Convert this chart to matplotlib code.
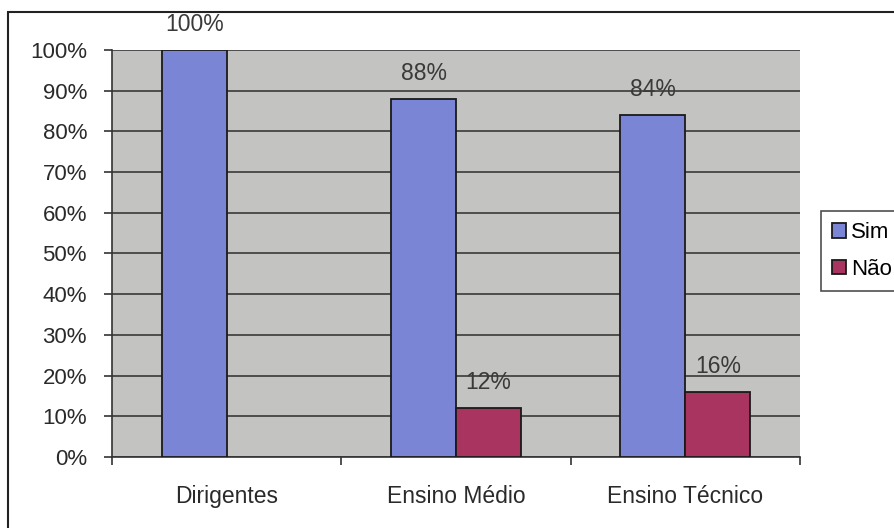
import matplotlib.pyplot as plt
import numpy as np
from matplotlib.patches import Rectangle, Patch

categories = ['Dirigentes', 'Ensino Médio', 'Ensino Técnico']
sim = [100, 88, 84]
nao = [0, 12, 16]
series_names = ['Sim', 'Não']
y_ticks = [0, 10, 20, 30, 40, 50, 60, 70, 80, 90, 100]

plt.rcParams['font.family'] = ['Liberation Sans', 'DejaVu Sans']

fig = plt.figure(figsize=(8.94, 5.28), dpi=100)
ax = fig.add_axes([0.1253, 0.1345, 0.7696, 0.7708])

# outer chart frame
fig.patches.append(Rectangle((0.009, -0.05), 1.1, 1.027, transform=fig.transFigure,
                             fill=False, edgecolor='#222222', linewidth=1.5))

x = np.arange(len(categories))
w = 0.283
colors = ['#7a85d6', '#a8345f']
ax.set_facecolor('#c3c3c1')
b1 = ax.bar(x - w / 2, sim, w, color=colors[0], edgecolor='#1a1a1a', linewidth=1.3,
            zorder=3)
b2 = ax.bar(x + w / 2, nao, w, color=colors[1], edgecolor='#1a1a1a', linewidth=1.3,
            zorder=3)

for bars, vals in ((b1, sim), (b2, nao)):
    for rect, v in zip(bars, vals):
        if v == 0:
            rect.set_edgecolor('none')
            continue
        ax.annotate(f'{v}%', (rect.get_x() + rect.get_width() / 2, v),
                    xytext=(0, 10), textcoords='offset points', ha='center',
                    va='bottom', fontsize=16.5, color='#3a3a3a', zorder=4)

ax.set_xlim(-0.5, len(categories) - 0.5)
ax.set_ylim(0, 100)
ax.set_yticks(y_ticks)
ax.set_yticklabels([f'{t}%' for t in y_ticks], fontsize=16, color='#2a2a2a')
ax.yaxis.grid(True, color='#3a3a3a', linewidth=1.2, zorder=1)
ax.set_axisbelow(True)

# category ticks sit on the boundaries, labels in the middle
ax.set_xticks(np.arange(len(categories) + 1) - 0.5)
ax.set_xticklabels([])
ax.set_xticks(x, minor=True)
ax.set_xticklabels(categories, minor=True, fontsize=16.5, color='#2a2a2a')
ax.tick_params(axis='x', which='major', length=6, width=1.2, color='#333333')
ax.tick_params(axis='x', which='minor', length=0, pad=20)
ax.tick_params(axis='y', length=6, width=1.2, color='#333333', pad=12)

for side in ('top', 'right'):
    ax.spines[side].set_visible(False)
ax.spines['left'].set_color('#333333')
ax.spines['bottom'].set_color('#333333')
ax.spines['left'].set_linewidth(1.2)
ax.spines['bottom'].set_linewidth(1.2)

handles = [Patch(facecolor=c, edgecolor='#1a1a1a', linewidth=1.3, label=n)
           for c, n in zip(colors, series_names)]
leg = fig.legend(handles=handles, loc='upper left', bbox_to_anchor=(0.918, 0.6),
                 fontsize=16, frameon=True, fancybox=False, edgecolor='#222222',
                 handlelength=0.65, handleheight=0.65, handletextpad=0.2,
                 borderpad=0.5, labelspacing=0.7, borderaxespad=0)
leg.get_frame().set_linewidth(1.2)

fig.savefig('out.png', dpi=100, facecolor='white')
